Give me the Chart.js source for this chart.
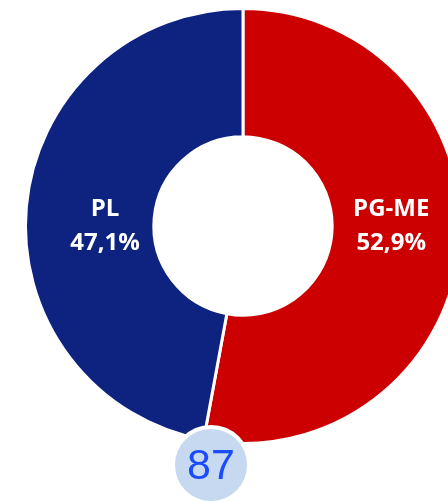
<!DOCTYPE html>
<html>
<head>
<meta charset="utf-8">
<script src="https://cdn.jsdelivr.net/npm/chart.js@4/dist/chart.umd.min.js"></script>
<style>
html,body{margin:0;padding:0;background:#fff;overflow:hidden;width:448px;height:502px;}
#wrap{position:absolute;left:0;top:0;width:486px;height:502px;}
</style>
</head>
<body>
<div id="wrap"><canvas id="c"></canvas></div>
<script>
const categories = ['PG-ME', 'PL'];
const values = [52.9, 47.1];
const valueLabels = ['52,9%', '47,1%'];
const colors = ['#CC0000', '#0D237F'];
const totalLabel = '87';

const labelPlugin = {
  id: 'sliceLabels',
  afterDatasetsDraw(chart) {
    const ctx = chart.ctx;
    const meta = chart.getDatasetMeta(0);
    ctx.save();
    ctx.fillStyle = '#ffffff';
    ctx.textAlign = 'center';
    ctx.textBaseline = 'middle';
    ctx.font = 'bold 24px "Open Sans", "Liberation Sans", sans-serif';
    meta.data.forEach((arc, i) => {
      const p = arc.getProps(['x','y','startAngle','endAngle','innerRadius','outerRadius'], true);
      const mid = (p.startAngle + p.endAngle) / 2;
      const side = Math.cos(mid) >= 0 ? 1 : -1;
      const r = p.innerRadius + (p.outerRadius - p.innerRadius) * (side > 0 ? 0.46 : 0.38);
      const x = p.x + side * r;
      const y = p.y;
      ctx.fillText(categories[i], x, y - 17);
      ctx.fillText(valueLabels[i], x, y + 17);
    });
    ctx.restore();
  }
};

const badgePlugin = {
  id: 'badge',
  afterDraw(chart) {
    const ctx = chart.ctx;
    const arc = chart.getDatasetMeta(0).data[0];
    const cx = arc.x - 32;
    const cy = arc.y + 239;
    ctx.save();
    ctx.beginPath();
    ctx.arc(cx, cy, 38, 0, Math.PI * 2);
    ctx.fillStyle = '#C6D9F0';
    ctx.fill();
    ctx.lineWidth = 4;
    ctx.strokeStyle = '#ffffff';
    ctx.stroke();
    ctx.fillStyle = '#1A4BFF';
    ctx.textAlign = 'center';
    ctx.textBaseline = 'middle';
    ctx.font = '43px "Liberation Sans", Arial, sans-serif';
    ctx.fillText(totalLabel, cx, cy + 2);
    ctx.restore();
  }
};

new Chart(document.getElementById('c'), {
  type: 'doughnut',
  data: {
    labels: categories,
    datasets: [{
      data: values,
      backgroundColor: colors,
      borderColor: '#ffffff',
      borderWidth: 3,
      hoverOffset: 0
    }]
  },
  options: {
    responsive: true,
    maintainAspectRatio: false,
    animation: false,
    cutout: '41%',
    layout: { padding: { top: 7, bottom: 57, left: 24, right: 24 } },
    plugins: { legend: { display: false }, tooltip: { enabled: false } }
  },
  plugins: [labelPlugin, badgePlugin]
});
</script>
</body>
</html>
